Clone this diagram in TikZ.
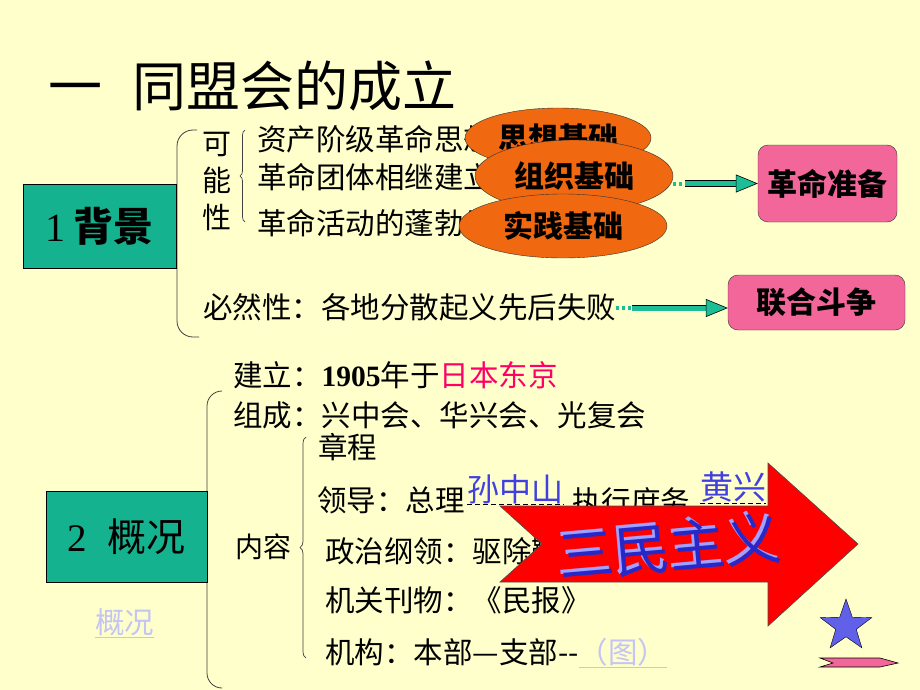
\documentclass[tikz,border=0pt]{standalone}
\usepackage{fontspec}
\setmainfont{Noto Sans CJK SC}
\newfontfamily\tnr{Liberation Serif}
\usepackage{xcolor}
\usepackage{tikz}
\usetikzlibrary{decorations.pathreplacing}
\usetikzlibrary{positioning}
\usetikzlibrary{shapes.geometric}
\usetikzlibrary{arrows.meta}
\definecolor{paper}{RGB}{255,255,204}
\definecolor{tealbox}{RGB}{20,178,142}
\definecolor{arrc}{RGB}{28,190,150}
\definecolor{pinkc}{RGB}{242,102,153}
\definecolor{orangec}{RGB}{240,104,16}
\definecolor{hot}{RGB}{255,0,102}
\definecolor{namec}{RGB}{64,64,224}
\definecolor{linkc}{RGB}{196,196,245}
\definecolor{royal}{RGB}{40,40,200}
\definecolor{lav}{RGB}{160,160,255}
\definecolor{starc}{RGB}{96,96,232}
\newcommand\setfs[1]{\fontsize{#1}{#1}\selectfont}

\begin{document}
\begin{tikzpicture}[x=1pt,y=-1pt,
    txt/.style={inner sep=0pt,anchor=west,text height={0.8*#1},text depth={0.1*#1},font=\setfs{#1}},
    txt/.default=29.5,
    secbox/.style={draw=black,fill=tealbox,inner sep=0pt},
    pinkbox/.style={draw=black!80,fill=pinkc,rounded corners=10pt,inner sep=0pt,font=\setfs{30}\bfseries},
    oval/.style={ellipse,draw=black!80,fill=orangec,inner sep=0pt,font=\setfs{30}\bfseries},
    frame/.style={draw=black!75,line width=.8pt,rounded corners=16pt},
    brc/.style={draw=black!75,line width=.7pt,decorate,decoration={brace,amplitude=5pt}},
    dots/.style={draw=arrc,line width=4pt,dash pattern=on 3pt off 3pt},
    thickarr/.style={draw=arrc,line width=5pt,
      -{Triangle[length=22pt 0,width=18pt 0,color=black,fill=arrc,line width=.6pt]},
      preaction={draw=black,line width=6.6pt,-,shorten >=20pt}},
    blank/.style={draw=black,line width=.8pt,dash pattern=on 5pt off 3pt}]
  \fill[paper] (0,0) rectangle (920,690);
  \useasboundingbox (0,0) rectangle (920,690);

  \node[txt=54] (title) at (48,88) {一\hspace{30pt}同盟会的成立};

  \draw[frame] (197,130) -- (177,130) -- (177,337) -- (199,337);
  \node[secbox,minimum width=153,minimum height=84,font=\setfs{40}] (bg1) at (99.5,226)
    {{\tnr 1} \textbf{背景}};
  \node[inner sep=0pt,align=center,font=\fontsize{29}{37}\selectfont] (kns) at (217,181) {可\\能\\性};
  \draw[brc] (245,222) -- (245,130);
  \node[txt] (idea) at (257,140) {资产阶级革命思想的广泛传播};
  \node[txt] (group) at (257,178) {革命团体相继建立};
  \node[txt] (act) at (257,224) {革命活动的蓬勃发展};
  \node[oval,minimum width=186,minimum height=60] (think) at (558,138) {思想基础};
  \node[oval,minimum width=198,minimum height=72] (org) at (574,176) {组织基础};
  \node[oval,minimum width=208,minimum height=64] (prac) at (563,226) {实践基础};

  \node[pinkbox,minimum width=139,minimum height=77] (prep) at (827.5,183.5) {革命准备};
  \draw[dots] (org.east |- prep) -- ++(12,0) coordinate (g1);
  \draw[thickarr] (g1) -- (prep.west);

  \node[txt] (must) at (203,308) {必然性：各地分散起义先后失败};
  \node[pinkbox,minimum width=177,minimum height=55] (union) at (816.5,302.5) {联合斗争};
  \draw[dots] (must.east) -- ++(16,0) coordinate (g2);
  \draw[thickarr] (g2) -- (g2 -| union.west);

  \draw[frame,rounded corners=15pt] (222,391) -- (207,391) -- (207,688) -- (222,688);
  \node[secbox,minimum width=161,minimum height=91,font=\setfs{39}] (bg2) at (126.5,536.5)
    {{\tnr 2}\hspace{20pt}概况};
  \node[txt,text=linkc] (lnk) at (95,623) {\underline{概况}};

  \node[txt] (est) at (233,376) {建立：{\tnr\bfseries 1905}年于\textcolor{hot}{日本东京}};
  \node[txt] (form) at (233,416) {组成：兴中会、华兴会、光复会};
  \node[txt=28] (cont) at (235,548) {内容};
  \draw[brc,decoration={brace,amplitude=6pt}] (306,658) -- (306,437);
  \node[txt] (rule) at (318,448) {章程};
  \node[txt] (lead) at (317,501) {领导：总理};
  \node[txt=32,text=namec] (sun) at (467,490) {孙中山};
  \draw[blank] (sun.south west) -- (sun.south east);
  \node[txt] (exec) at (572,502) {执行庶务};
  \node[txt=33,text=namec] (huang) at (700,488) {黄兴};
  \draw[blank] (huang.south west) -- (huang.south east);
  \node[txt] (plat) at (325,552) {政治纲领：驱除鞑虏，恢复中华};
  \node[txt] (paper) at (325,601) {机关刊物：《民报》};
  \node[txt] (org2) at (325,653) {机构：本部—支部{-}{-}};
  \node[txt,text=linkc,right=0pt of org2] (fig) {\underline{（图）}};

  \filldraw[draw=black!70,fill=red,line width=.6pt] (500,506) -- (768,506) -- (768,463) -- (858,544)
    -- (768,626) -- (768,582) -- (500,582) -- (542,544) -- cycle;
  \node[rotate=5,text=lav,font=\setfs{56}] (smzy0) at (667,544) {三民主义};
  \node[rotate=5,text=royal,font=\setfs{56}] (smzy) at (670,547) {三民主义};

  \node[star,star points=5,star point ratio=2.5,minimum size=54,inner sep=0pt,
    draw=black,fill=starc] (star) at (846,626) {};
  \filldraw[draw=black,fill=pinkc,line width=.6pt] (820,658) -- (880,658) -- (898,663)
    -- (880,667) -- (820,667) -- (833,663) -- cycle;
\end{tikzpicture}
\end{document}
